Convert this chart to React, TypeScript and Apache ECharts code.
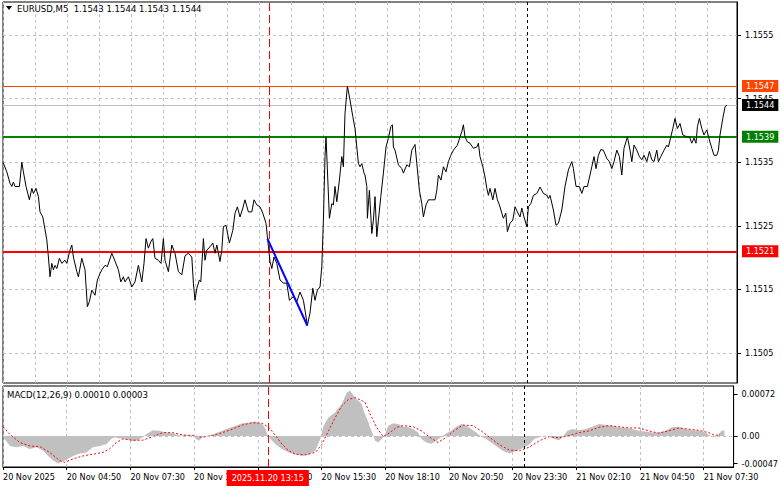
import { useEffect, useRef } from 'react';
import * as echarts from 'echarts';

// ---------- DATA ----------
// x values are 5-minute bar numbers counted from 20 Nov 2025 02:10
const priceBars = [
  0, 1.9, 3.5, 4.4, 5.2, 6, 8.2, 9.4, 10.2, 11.5,
  13.2, 14.4, 15.2, 16.5, 17.7, 18.5, 19.9, 21.9, 22.7, 23.5,
  24.4, 25.2, 26, 26.9, 28.2, 29.4, 31, 31.9, 33.5, 34.4,
  35.2, 36.9, 37.7, 39.4, 41, 42.2, 43.2, 44.4, 46, 47.2,
  48.5, 49.4, 51, 52.2, 54.4, 55.2, 57.7, 58.9, 60.2, 61,
  62.7, 64.4, 66, 67.7, 69.4, 70.5, 71.5, 72.7, 73.9, 74.9,
  76, 77.7, 79, 80.2, 81, 82.7, 84.4, 86, 87.7, 89.4,
  91, 92.7, 94.4, 95.2, 96, 96.9, 98.2, 98.9, 100.2, 101,
  101.9, 103.5, 104.9, 106, 106.9, 108.5, 109.4, 110.2, 111.5, 113.2,
  114.9, 116, 117.2, 118.5, 119.9, 121, 122.7, 124.4, 125.5, 126.9,
  128.5, 129.9, 131.5, 132.2, 133.5, 134.4, 135.5, 136.9, 138.5, 140.2,
  141.9, 143.2, 145.2, 146.9, 148.5, 150.2, 152.2, 153.5, 154.9, 156,
  157.2, 158.5, 159.4, 160.2, 161, 161.5, 162.2, 163.2, 164.4, 165.2,
  166, 166.9, 168.2, 169.4, 170.2, 171, 172.2, 173.5, 174.9, 176,
  176.9, 177.7, 178.5, 179.4, 180.5, 181, 181.9, 182.2, 183.2, 184.4,
  185.2, 186, 186.9, 187.7, 188.9, 190.2, 191.5, 192.7, 193.9, 194.7,
  195.2, 196, 197.7, 199.4, 200.2, 201.9, 203.2, 204.4, 206, 206.9,
  208.2, 209.4, 210.2, 211.5, 212.7, 214.4, 216, 216.9, 217.7, 219,
  220.2, 221.5, 222.7, 223.9, 225.2, 227.2, 228.5, 229.4, 230.2, 231,
  232.2, 233.5, 235.2, 236.9, 237.7, 238.5, 239.9, 241, 241.9, 242.7,
  243.5, 244.9, 246, 247.2, 248.2, 249.4, 250.2, 251.4, 252.2, 253.5,
  254.9, 256, 257.2, 258.5, 259.4, 260.5, 261.9, 262.7, 263.9, 265.2,
  266.9, 268.5, 270.2, 271.9, 272.7, 273.5, 275.2, 276.5, 277.7, 279.4,
  281, 282.7, 284.4, 285.2, 286.5, 288.2, 289.4, 290.5, 292.2, 293.5,
  294.4, 295.5, 296.5, 297.7, 298.9, 300.2, 301.9, 303.2, 304.4, 305.5,
  306.9, 308.2, 309.4, 310.5, 312.2, 313.5, 314.4, 315.5, 316.9, 318.2,
  319.4, 320.5, 321.9, 323.2, 324.4, 325.5, 326.9, 327.7, 328.9, 330.5,
  331.9, 332.7, 333.9, 334.9, 336, 337.2, 338.5, 339.9, 341.9, 343.2,
  344.4, 345.5, 346.5, 347.2, 348.2, 349.4, 350.5, 351.9, 353.2, 354.4,
  355.5, 356.9, 357.7, 358.5, 359.9, 361, 361.9,
];

const priceValues = [
  1.1535, 1.15335, 1.15317, 1.15312, 1.15319, 1.15312, 1.15312, 1.1535, 1.15335, 1.15312,
  1.15291, 1.15309, 1.15301, 1.15309, 1.15296, 1.15272, 1.15264, 1.15228, 1.15201, 1.1517,
  1.15191, 1.15181, 1.15188, 1.15183, 1.15199, 1.15191, 1.15196, 1.15191, 1.15212, 1.1522,
  1.15201, 1.15178, 1.1517, 1.15199, 1.15181, 1.15123, 1.15131, 1.15149, 1.15141, 1.15165,
  1.15175, 1.15181, 1.15188, 1.15186, 1.15207, 1.15201, 1.15181, 1.15162, 1.1517, 1.15162,
  1.1517, 1.15154, 1.15162, 1.15188, 1.15162, 1.15191, 1.1523, 1.15215, 1.15225, 1.1523,
  1.15199, 1.15196, 1.15191, 1.1523, 1.15196, 1.15178, 1.1522, 1.15207, 1.15178, 1.15173,
  1.15203, 1.15207, 1.15201, 1.1516, 1.15133, 1.15152, 1.15165, 1.15162, 1.1523, 1.15196,
  1.15212, 1.15217, 1.15223, 1.15207, 1.1522, 1.15194, 1.15212, 1.15249, 1.15251, 1.15223,
  1.15243, 1.1527, 1.1528, 1.15264, 1.15278, 1.15291, 1.15272, 1.15272, 1.15291, 1.15283,
  1.1528, 1.1527, 1.15254, 1.15233, 1.15194, 1.15183, 1.15201, 1.15191, 1.15165, 1.1516,
  1.1516, 1.15133, 1.15139, 1.15131, 1.15146, 1.15133, 1.15094, 1.15113, 1.15152, 1.15133,
  1.15149, 1.15154, 1.15186, 1.15259, 1.15359, 1.1539, 1.15338, 1.15262, 1.15285, 1.15283,
  1.15312, 1.15288, 1.15322, 1.15359, 1.15343, 1.15427, 1.1547, 1.15448, 1.15422, 1.15403,
  1.15374, 1.15348, 1.15343, 1.15348, 1.15333, 1.1533, 1.15312, 1.15262, 1.15306, 1.15238,
  1.15259, 1.15296, 1.15233, 1.15259, 1.15296, 1.15333, 1.15374, 1.15388, 1.15406, 1.15409,
  1.15374, 1.15369, 1.15346, 1.1534, 1.15333, 1.15346, 1.15343, 1.15369, 1.15378, 1.15348,
  1.15306, 1.15285, 1.15264, 1.15283, 1.15291, 1.15291, 1.15291, 1.15306, 1.1533, 1.15322,
  1.15343, 1.15335, 1.15351, 1.15361, 1.15369, 1.15377, 1.1539, 1.15398, 1.15409, 1.1539,
  1.15382, 1.1538, 1.15372, 1.15374, 1.1538, 1.15359, 1.15343, 1.15327, 1.15309, 1.15298,
  1.15309, 1.15291, 1.15309, 1.15291, 1.15283, 1.1527, 1.15262, 1.1527, 1.15241, 1.15254,
  1.15259, 1.1528, 1.15272, 1.15264, 1.15278, 1.15264, 1.15249, 1.1528, 1.15285, 1.15298,
  1.15301, 1.15311, 1.15301, 1.15298, 1.15293, 1.15298, 1.15275, 1.15251, 1.15254, 1.15275,
  1.15312, 1.15338, 1.15351, 1.1534, 1.15312, 1.15312, 1.15301, 1.15312, 1.15312, 1.1533,
  1.15343, 1.15359, 1.1534, 1.15361, 1.1537, 1.15369, 1.15356, 1.15351, 1.1534, 1.15351,
  1.15369, 1.15359, 1.1533, 1.15372, 1.1539, 1.15369, 1.15351, 1.15377, 1.15369, 1.15359,
  1.15354, 1.15361, 1.15351, 1.15367, 1.15354, 1.15351, 1.15369, 1.15351, 1.15359, 1.15369,
  1.15377, 1.15374, 1.1539, 1.15403, 1.15419, 1.15403, 1.15411, 1.15393, 1.1539, 1.1539,
  1.1538, 1.15388, 1.1538, 1.15406, 1.15419, 1.15403, 1.15393, 1.15401, 1.15385, 1.15372,
  1.15361, 1.15361, 1.15369, 1.15393, 1.15419, 1.15437, 1.1544,
];

const trendBars = [132.2, 152.2];
const trendValues = [1.1523, 1.15093];

const levelValues = [1.1547, 1.1544, 1.1539, 1.1521];
const priceGridValues = [1.1505, 1.1515, 1.1525, 1.1535, 1.1545, 1.1555];

const histBars = [
  0.2, 3.5, 6.8, 10.2, 13.5, 16.8, 20.2, 22.7, 25.2, 27.7,
  30.2, 32.7, 35.2, 38.5, 41.9, 45.2, 48.5, 51.9, 54.4, 56,
  58.5, 61.9, 65.2, 67.7, 70.2, 71.9, 75.2, 78.5, 81.9, 85.2,
  88.5, 91.9, 95.2, 96.9, 98.5, 100.2, 103.5, 106.9, 110.2, 113.5,
  116.9, 120.2, 123.5, 126.9, 130.2, 131.9, 132.7, 134.4, 136.9, 140.2,
  143.5, 146.9, 150.2, 153.5, 156.9, 159.4, 161, 163.5, 166.9, 170.2,
  172.7, 174.4, 176.9, 180.2, 181, 182.7, 184.4, 186, 186.9, 188.5,
  190.2, 191.9, 193.5, 196, 198.5, 201, 203.5, 206, 208.5, 210.2,
  212.7, 215.2, 217.7, 220.2, 222.7, 225.2, 227.7, 230.2, 232.7, 235.2,
  237.7, 240.2, 242.7, 245.2, 247.7, 251, 254.4, 257.7, 261, 264.4,
  266.9, 269.4, 271.9, 274.4, 276.9, 279.4, 281, 283.5, 286, 289.4,
  292.7, 296, 299.4, 302.7, 306, 309.4, 312.7, 316, 319.4, 322.7,
  326, 329.4, 332.7, 336, 339.4, 342.7, 346, 349.4, 352.7, 355.2,
  357.7, 359.4, 361, 362.4,
];
const histValues = [
  -0.00002, -0.00017, -0.00019, -0.00017, -0.00022, -0.00019, -0.00025, -0.00034, -0.00042, -0.00047,
  -0.00043, -0.00039, -0.00034, -0.0003, -0.00028, -0.00019, -0.00017, -0.00014, -0.00005, -0.00002,
  -0.00004, -0.00005, -0.00009, -0.00007, -0.00002, 0.00003, 0.0001, 0.00009, 0.00006, 0.00005,
  0.00001, 0.00002, 0.00001, -0.00005, -0.00008, -0.00002, 0.00001, 0.00005, 0.00009, 0.00014,
  0.00018, 0.00022, 0.00023, 0.00025, 0.00021, 0.00012, 0.00003, -0.00005, -0.00014, -0.00022,
  -0.00028, -0.00031, -0.00034, -0.00032, -0.00025, -0.00005, 0.00018, 0.00032, 0.00041, 0.00055,
  0.00075, 0.00078, 0.00066, 0.00055, 0.00045, 0.00031, 0.00015, 0.00001, -0.00008, -0.00011,
  -0.00005, 0.00003, 0.00018, 0.00022, 0.00021, 0.00016, 0.00015, 0.00012, 0.00006, -0.00005,
  -0.00011, -0.00013, -0.00008, -0.00001, 0.00005, 0.00009, 0.00016, 0.00021, 0.00018, 0.00012,
  0.00006, -0.00001, -0.00005, -0.00011, -0.00017, -0.00025, -0.0003, -0.00025, -0.00021, -0.00014,
  -0.00005, -0.00002, 0.00001, -0.00001, -0.00005, -0.00007, -0.00002, 0.00009, 0.00012, 0.0001,
  0.00012, 0.00016, 0.00021, 0.00019, 0.00018, 0.00015, 0.00014, 0.00012, 0.00009, 0.00008,
  0.00006, 0.00006, 0.00009, 0.00015, 0.00016, 0.00012, 0.0001, 0.00009, 0.00006, 0.00001,
  -0.00002, 0.00003, 0.00009, 0.0001,
];

const signalBars = [
  0, 3.5, 8.5, 13.5, 18.5, 23.5, 28.5, 31, 35.2, 40.2,
  45.2, 50.2, 53.5, 56.9, 60.2, 65.2, 70.2, 75.2, 80.2, 85.2,
  90.2, 95.2, 100.2, 105.2, 110.2, 115.2, 120.2, 125.2, 130.2, 133.5,
  136.9, 140.2, 143.5, 146.9, 151.9, 156.9, 160.2, 163.5, 166.9, 170.2,
  173.5, 176.9, 180.2, 181.9, 184.4, 187.7, 191, 194.4, 197.7, 201,
  206, 210.2, 214.4, 218.5, 222.7, 226.9, 231, 236, 240.2, 244.4,
  249.4, 254.4, 259.4, 264.4, 269.4, 274.4, 279.4, 284.4, 289.4, 294.4,
  299.4, 304.4, 309.4, 314.4, 319.4, 324.4, 329.4, 334.4, 339.4, 344.4,
  349.4, 354.4, 357.7, 360.2,
];
const signalValues = [
  0.00016, 0.00003, -0.00011, -0.00017, -0.00018, -0.00028, -0.00042, -0.00045, -0.00039, -0.00034,
  -0.00031, -0.00028, -0.00022, -0.00011, -0.00005, -0.00007, -0.00007, -0.00001, 0.00006, 0.00006,
  0.00002, 0.00001, -0.00002, 0.00001, 0.00006, 0.00012, 0.00019, 0.00023, 0.00022, 0.00015,
  0.00001, -0.00014, -0.00025, -0.00031, -0.00032, -0.00028, -0.00014, 0.00009, 0.00032, 0.00052,
  0.00063, 0.00066, 0.00061, 0.00058, 0.00038, 0.00015, -0.00001, 0.00006, 0.00015, 0.00018,
  0.00016, 0.00009, -0.00002, -0.00011, -0.00002, 0.0001, 0.00019, 0.00018, 0.00009, -0.00002,
  -0.00015, -0.00024, -0.00025, -0.00019, -0.00008, -0.00001, -0.00003, 0.00001, 0.00006, 0.00009,
  0.00015, 0.00018, 0.00016, 0.00014, 0.00014, 0.00009, 0.00005, 0.00009, 0.00014, 0.00012,
  0.0001, 0.00006, 0.00001, 0.00003,
];
const macdTickValues = [0.00072, 0, -0.00047];

const timeLabelBars = [0, 32, 64, 96, 128, 160, 192, 224, 256, 288, 320, 352];
const markerBar = 133; // 2025.11.20 13:15
const dayBreakBar = 262; // 21 Nov 00:00
const lastBar = 367;

const titleText = 'EURUSD,M5  1.1543 1.1544 1.1543 1.1544';
const macdTitle = 'MACD(12,26,9) 0.00010 0.00003';
const markerText = '2025.11.20 13:15';

// ---------- STYLES ----------
const FONT = "'DejaVu Sans Condensed', 'DejaVu Sans', sans-serif";
const levelStyles = [
  { color: '#FF4500', width: 1, bg: '#FF4500' },
  { color: '#C0C0C0', width: 1, bg: '#000000' },
  { color: '#008000', width: 2, bg: '#008000' },
  { color: '#FF0000', width: 2, bg: '#FF0000' },
];
const gridLine = { color: '#C0C0C0', type: [3, 3], width: 1 };

const START_MS = Date.UTC(2025, 10, 20, 2, 10);
const BAR_MS = 5 * 60 * 1000;
const MONTHS = ['Jan', 'Feb', 'Mar', 'Apr', 'May', 'Jun', 'Jul', 'Aug', 'Sep', 'Oct', 'Nov', 'Dec'];
const pad = (n: number) => (n < 10 ? '0' + n : '' + n);
function barLabel(bar: number): string {
  const d = new Date(START_MS + Math.round(bar) * BAR_MS);
  const head = `${d.getUTCDate()} ${MONTHS[d.getUTCMonth()]}`;
  if (Math.round(bar) === 0) return `${head} ${d.getUTCFullYear()}`;
  return `${head} ${pad(d.getUTCHours())}:${pad(d.getUTCMinutes())}`;
}

function zip(xs: number[], ys: number[]) {
  const n = Math.min(xs.length, ys.length);
  const out: number[][] = [];
  for (let i = 0; i < n; i++) out.push([xs[i], ys[i]]);
  return out;
}

// a horizontal line across the whole pane, placed through the axes' scales
function hLine(v: number, extra: any = {}) {
  return [{ coord: [0, v], ...extra }, { coord: [lastBar, v] }];
}

export default function App() {
  const ref = useRef<HTMLDivElement>(null);
  useEffect(() => {
    document.body.style.margin = '0';
    const el = ref.current;
    if (!el) return;
    const chart = echarts.init(el, null, { renderer: 'svg' });

    const vMarkers = [
      { xAxis: markerBar, lineStyle: { color: '#FF0000', type: [8, 4], width: 1 } },
      { xAxis: dayBreakBar, lineStyle: { color: '#000000', type: [3, 3], width: 1 } },
    ];

    const option: any = {
      animation: false,
      backgroundColor: '#ffffff',
      textStyle: { fontFamily: FONT },
      grid: [
        { left: 3, top: 2, width: 734, height: 381, show: true, borderColor: '#000', borderWidth: 1, backgroundColor: 'transparent' },
        { left: 3, top: 386, width: 734, height: 81, show: true, borderColor: '#000', borderWidth: 1, backgroundColor: 'transparent' },
      ],
      xAxis: [
        {
          gridIndex: 0, type: 'value', min: 0, max: lastBar, interval: 16,
          axisLine: { show: false, onZero: false }, axisTick: { show: false }, axisLabel: { show: false },
          splitLine: { show: true, lineStyle: gridLine },
        },
        {
          gridIndex: 1, type: 'value', min: 0, max: lastBar, interval: 16, position: 'bottom',
          axisLine: { show: true, onZero: false, lineStyle: { color: '#000' } },
          axisTick: { show: true, customValues: timeLabelBars, length: 3, lineStyle: { color: '#000' } },
          axisLabel: {
            show: true, customValues: timeLabelBars, formatter: (v: number) => barLabel(v),
            align: 'left', margin: 5, fontSize: 9, fontFamily: FONT, color: '#000',
          },
          splitLine: { show: true, lineStyle: gridLine },
        },
      ],
      yAxis: [
        {
          gridIndex: 0, type: 'value', position: 'right', min: 1.15003, max: 1.15602,
          axisLine: { show: true, onZero: false, lineStyle: { color: '#000' } },
          axisTick: { show: true, customValues: priceGridValues, length: 4, lineStyle: { color: '#000' } },
          axisLabel: {
            show: true, customValues: priceGridValues, formatter: (v: number) => v.toFixed(4),
            margin: 8, fontSize: 9, fontFamily: FONT, color: '#000',
          },
          splitLine: { show: false },
        },
        {
          gridIndex: 1, type: 'value', position: 'right', min: -0.00053, max: 0.00086,
          axisLine: { show: true, onZero: false, lineStyle: { color: '#000' } },
          axisTick: { show: true, customValues: macdTickValues, length: 4, lineStyle: { color: '#000' } },
          axisLabel: {
            show: true, customValues: macdTickValues,
            formatter: (v: number) => (Math.abs(v) < 1e-9 ? '0.00' : v.toFixed(5)),
            margin: 8, fontSize: 9, fontFamily: FONT, color: '#000',
          },
          splitLine: { show: false },
        },
      ],
      series: [
        {
          name: 'hgrid', type: 'line', xAxisIndex: 0, yAxisIndex: 0, data: [], z: 1,
          markLine: {
            silent: true, symbol: 'none', animation: false, label: { show: false },
            lineStyle: gridLine,
            data: priceGridValues.map((v) => hLine(v)),
          },
        },
        {
          name: 'levels', type: 'line', xAxisIndex: 0, yAxisIndex: 0, data: [], z: 3,
          markLine: {
            silent: true, symbol: 'none', animation: false,
            data: levelValues.map((v, i) =>
              hLine(v, {
                lineStyle: { color: levelStyles[i].color, width: levelStyles[i].width, type: 'solid' },
                label: {
                  show: true, position: 'end', distance: 5, formatter: v.toFixed(4),
                  backgroundColor: levelStyles[i].bg, color: '#ffffff', padding: [2, 4, 1, 4],
                  fontSize: 9, fontFamily: FONT,
                },
              })
            ),
          },
        },
        {
          name: 'vmark0', type: 'line', xAxisIndex: 0, yAxisIndex: 0, data: [], z: 2,
          markLine: { silent: true, symbol: 'none', animation: false, label: { show: false }, data: vMarkers },
        },
        {
          name: 'price', type: 'line', xAxisIndex: 0, yAxisIndex: 0, z: 5,
          data: zip(priceBars, priceValues), showSymbol: false, symbol: 'none',
          lineStyle: { color: '#000000', width: 1 },
        },
        {
          name: 'trend', type: 'line', xAxisIndex: 0, yAxisIndex: 0, z: 6,
          data: zip(trendBars, trendValues), showSymbol: false, symbol: 'none',
          lineStyle: { color: '#0000FF', width: 2 },
        },
        {
          name: 'zero', type: 'line', xAxisIndex: 1, yAxisIndex: 1, data: [], z: 3,
          markLine: {
            silent: true, symbol: 'none', animation: false, label: { show: false },
            lineStyle: gridLine, data: [hLine(0)],
          },
        },
        {
          name: 'hist', type: 'line', xAxisIndex: 1, yAxisIndex: 1, z: 2,
          data: zip(histBars, histValues), showSymbol: false, symbol: 'none',
          lineStyle: { width: 0, color: '#C0C0C0' },
          areaStyle: { color: '#C0C0C0', opacity: 1 },
        },
        {
          name: 'vmark1', type: 'line', xAxisIndex: 1, yAxisIndex: 1, data: [], z: 3,
          markLine: { silent: true, symbol: 'none', animation: false, label: { show: false }, data: vMarkers },
        },
        {
          name: 'signal', type: 'line', xAxisIndex: 1, yAxisIndex: 1, z: 4,
          data: zip(signalBars, signalValues), showSymbol: false, symbol: 'none',
          lineStyle: { color: '#FF0000', width: 1, type: [2, 2] },
        },
      ],
    };
    chart.setOption(option);

    const mx = chart.convertToPixel({ xAxisIndex: 1 }, markerBar) as unknown as number;
    chart.setOption({
      graphic: [
        { type: 'polygon', shape: { points: [[6, 6], [12, 6], [9, 10]] }, style: { fill: '#000' }, z: 50 },
        { type: 'text', x: 17, y: 3, z: 50, style: { text: titleText, fill: '#000', font: `9.5px ${FONT}` } },
        { type: 'text', x: 7, y: 389, z: 50, style: { text: macdTitle, fill: '#000', font: `9.5px ${FONT}` } },
        {
          type: 'text', x: mx, y: 478, z: 100,
          style: {
            text: markerText, fill: '#ffffff', font: `9px ${FONT}`,
            backgroundColor: '#FF0000', padding: [4, 5, 3, 5],
            align: 'center', verticalAlign: 'middle', textAlign: 'center', textVerticalAlign: 'middle',
          },
        },
      ],
    });

    return () => chart.dispose();
  }, []);

  return <div ref={ref} style={{ position: 'absolute', left: 0, top: 0, width: 781, height: 489 }} />;
}
